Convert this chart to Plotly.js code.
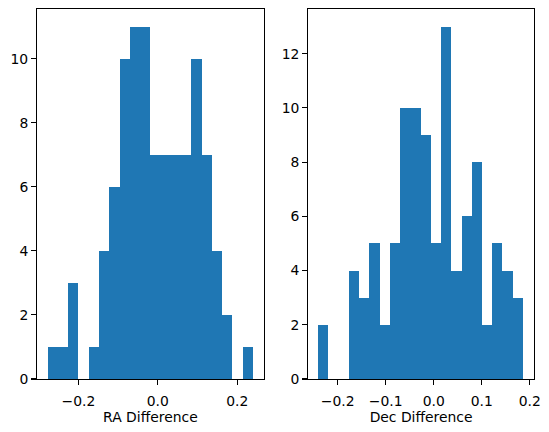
<!DOCTYPE html>
<html>
<head>
<meta charset="utf-8">
<script src="https://cdn.plot.ly/plotly-3.0.1.min.js"></script>
<style>html,body{margin:0;padding:0;background:#fff;}#chart{width:549px;height:432px;}</style>
</head>
<body>
<div id="chart"></div>
<script>
// RA Difference histogram: 20 bins
const raCounts = [1, 1, 3, 0, 1, 4, 6, 10, 11, 11, 7, 7, 7, 7, 10, 7, 4, 2, 0, 1];
const raBinStart = -0.2773;
const raBinWidth = 0.02584;

// Dec Difference histogram: 20 bins
const decCounts = [2, 0, 0, 4, 3, 5, 2, 5, 10, 10, 9, 5, 13, 4, 6, 8, 2, 5, 4, 3];
const decBinStart = -0.2406;
const decBinWidth = 0.02132;

// Tick values
const raXTicks = [-0.2, 0.0, 0.2];
const raYTicks = [0, 2, 4, 6, 8, 10];
const decXTicks = [-0.2, -0.1, 0.0, 0.1, 0.2];
const decYTicks = [0, 2, 4, 6, 8, 10, 12];

const centers = (start, w, n) => Array.from({length: n}, (_, i) => start + w * (i + 0.5));

const blue = '#1f77b4';
const font = {family: 'DejaVu Sans', size: 13.9, color: '#000'};

const traces = [
  {
    type: 'bar',
    x: centers(raBinStart, raBinWidth, raCounts.length),
    y: raCounts,
    width: raBinWidth,
    marker: {color: blue, line: {width: 0}},
    xaxis: 'x', yaxis: 'y',
    hoverinfo: 'x+y'
  },
  {
    type: 'bar',
    x: centers(decBinStart, decBinWidth, decCounts.length),
    y: decCounts,
    width: decBinWidth,
    marker: {color: blue, line: {width: 0}},
    xaxis: 'x2', yaxis: 'y2',
    hoverinfo: 'x+y'
  }
];

const axCommon = {
  showgrid: false,
  zeroline: false,
  showline: true,
  mirror: true,
  linecolor: '#000',
  linewidth: 1.1,
  ticks: 'outside',
  ticklen: 4.9,
  tickwidth: 1.1,
  tickcolor: '#000',
  tickfont: font,
  automargin: false
};

const layout = {
  width: 549,
  height: 432,
  margin: {l: 37, r: 15.3, t: 9, b: 53},
  paper_bgcolor: '#fff',
  plot_bgcolor: '#fff',
  showlegend: false,
  bargap: 0,
  font: font,
  xaxis: Object.assign({}, axCommon, {
    domain: [0, 0.4564],
    range: [-0.3042, 0.267],
    tickmode: 'array',
    tickvals: raXTicks,
    tickformat: '.1f',
    ticklabelstandoff: 4,
    anchor: 'y',
    title: {text: 'RA Difference', font: font, standoff: 4}
  }),
  yaxis: Object.assign({}, axCommon, {
    range: [0, 11.55],
    tickmode: 'array',
    tickvals: raYTicks,
    anchor: 'x'
  }),
  xaxis2: Object.assign({}, axCommon, {
    domain: [0.5456, 1],
    range: [-0.2615, 0.2088],
    tickmode: 'array',
    tickvals: decXTicks,
    tickformat: '.1f',
    ticklabelstandoff: 4,
    anchor: 'y2',
    title: {text: 'Dec Difference', font: font, standoff: 4}
  }),
  yaxis2: Object.assign({}, axCommon, {
    range: [0, 13.65],
    tickmode: 'array',
    tickvals: decYTicks,
    anchor: 'x2'
  })
};

Plotly.newPlot('chart', traces, layout, {staticPlot: true, displayModeBar: false});
</script>
</body>
</html>
